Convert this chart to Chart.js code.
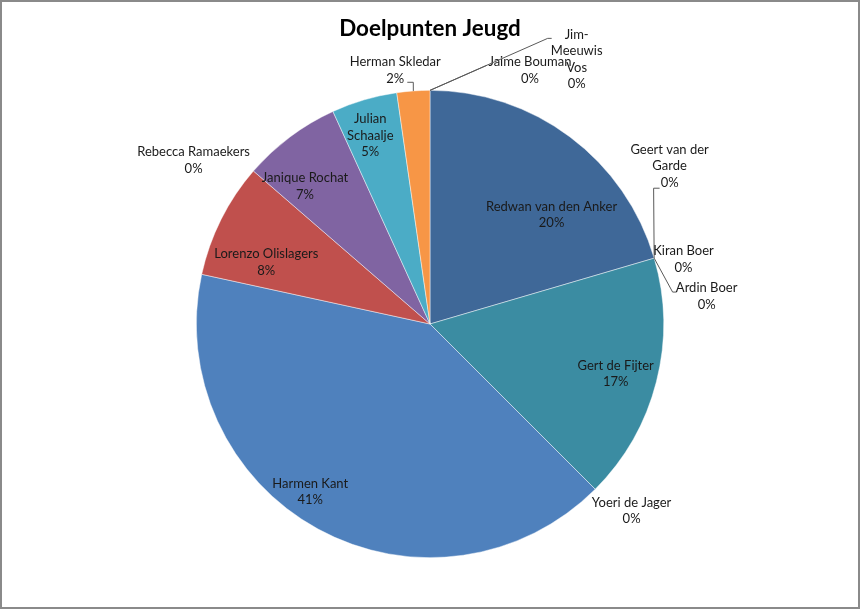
<!DOCTYPE html>
<html>
<head>
<meta charset="utf-8">
<script src="https://cdn.jsdelivr.net/npm/chart.js@4.4.1/dist/chart.umd.min.js"></script>
<style>
  html, body { margin: 0; background: #fff; }
  canvas { display: block; }
</style>
</head>
<body>
<canvas id="pie" width="860" height="609"></canvas>
<script>
const players = [
    'Redwan van den Anker', 'Geert van der Garde', 'Kiran Boer', 'Ardin Boer',
    'Gert de Fijter', 'Yoeri de Jager', 'Harmen Kant', 'Lorenzo Olislagers',
    'Rebecca Ramaekers', 'Janique Rochat', 'Julian Schaalje', 'Herman Skledar',
    'Jaime Bouman', 'Jim-Meeuwis Vos'
];
const goals = [18, 0, 0, 0, 15, 0, 36, 7, 0, 6, 4, 2, 0, 0];

const sliceColors = [
    '#3F6898', '#9BBB59', '#2C4D75', '#772C2A',
    '#3B8CA2', '#5F7530', '#4F81BD', '#C0504D',
    '#4D3B62', '#8064A2', '#4BACC6', '#F79646',
    '#276A7C', '#B65708'
];

// where each data label sits: radius factor, angle shift (deg) from slice middle,
// wrap width, optional leader line (anchor offset from label centre + small tick)
const placement = [
    { r: 0.70,  da: 11.2,  wrap: 200 },
    { r: 1.228, da: -17.0, wrap: 90, leader: { dx: -10, dy: 22, tick: -6 } },
    { r: 1.12,  da: 2.0,   wrap: 200 },
    { r: 1.19,  da: 10.6,  wrap: 200, leader: { dx: -30, dy: -4, tick: -4 } },
    { r: 0.823, da: 0.7,   wrap: 200 },
    { r: 1.176, da: -2.2,  wrap: 200 },
    { r: 0.882, da: 6.9,   wrap: 200 },
    { r: 0.749, da: -5.9,  wrap: 200 },
    { r: 1.231, da: -6.2,  wrap: 200 },
    { r: 0.796, da: -5.4,  wrap: 200 },
    { r: 0.847, da: -1.2,  wrap: 55 },
    { r: 1.096, da: -3.7,  wrap: 200, leader: { dx: 12, dy: 12, tick: 6 } },
    { r: 1.167, da: 21.5,  wrap: 200, leader: { dx: -43, dy: -5, tick: 0 } },
    { r: 1.295, da: 29.0,  wrap: 55,  leader: { dx: -25, dy: -21, tick: -4 } }
];

const total = goals.reduce((a, b) => a + b, 0);

function wrapText(ctx, text, maxW) {
    // split on spaces and after hyphens
    const parts = text.split(' ').flatMap(w => w.split(/(?<=-)/));
    const lines = [];
    let cur = '';
    parts.forEach(p => {
        const sep = (cur === '' || cur.endsWith('-')) ? '' : ' ';
        const test = cur + sep + p;
        if (cur !== '' && ctx.measureText(test).width > maxW) {
            lines.push(cur);
            cur = p;
        } else {
            cur = test;
        }
    });
    if (cur) lines.push(cur);
    return lines;
}

const pieLabels = {
    id: 'pieLabels',
    beforeDraw(chart) {
        const ctx = chart.ctx;
        ctx.save();
        ctx.fillStyle = '#fff';
        ctx.fillRect(0, 0, chart.width, chart.height);
        ctx.restore();
    },
    afterDraw(chart) {
        const ctx = chart.ctx;
        const arcs = chart.getDatasetMeta(0).data;
        ctx.save();
        ctx.font = '13px Lato';
        ctx.textAlign = 'center';
        ctx.textBaseline = 'middle';
        arcs.forEach((arc, i) => {
            const p = placement[i];
            const mid = (arc.startAngle + arc.endAngle) / 2;
            const a = mid + p.da * Math.PI / 180;
            const R = arc.outerRadius;
            const cx = arc.x + Math.cos(a) * R * p.r;
            const cy = arc.y + Math.sin(a) * R * p.r;

            if (p.leader) {
                const ex = arc.x + Math.cos(mid) * R;
                const ey = arc.y + Math.sin(mid) * R;
                const ax = cx + p.leader.dx, ay = cy + p.leader.dy;
                ctx.beginPath();
                ctx.moveTo(ax, ay);
                ctx.lineTo(ax + p.leader.tick, ay);
                ctx.lineTo(ex, ey);
                ctx.strokeStyle = '#5a5a5a';
                ctx.lineWidth = 1;
                ctx.stroke();
            }

            const pct = Math.round(goals[i] / total * 100) + '%';
            const lines = wrapText(ctx, players[i], p.wrap).concat([pct]);
            const lh = 16.5;
            const top = cy - (lines.length - 1) * lh / 2;
            ctx.fillStyle = '#1a1a1a';
            lines.forEach((ln, k) => ctx.fillText(ln, cx, top + k * lh));
        });

        // outer frame
        ctx.strokeStyle = '#8a8a8a';
        ctx.lineWidth = 2;
        ctx.strokeRect(1, 1, chart.width - 2, chart.height - 2);
        ctx.restore();
    }
};

Chart.defaults.font.family = 'Lato';

new Chart(document.getElementById('pie'), {
    type: 'pie',
    data: {
        labels: players,
        datasets: [{
            data: goals,
            backgroundColor: sliceColors,
            borderColor: 'rgba(255,255,255,0.6)',
            borderWidth: 0.75
        }]
    },
    options: {
        responsive: false,
        animation: false,
        layout: { padding: { top: 0, bottom: 51, left: 0, right: 0 } },
        plugins: {
            legend: { display: false },
            tooltip: { enabled: false },
            title: {
                display: true,
                text: 'Doelpunten Jeugd',
                color: '#000',
                font: { size: 22.4, weight: 'bold' },
                padding: { top: 15, bottom: 48.1 }
            }
        }
    },
    plugins: [pieLabels]
});
</script>
</body>
</html>
